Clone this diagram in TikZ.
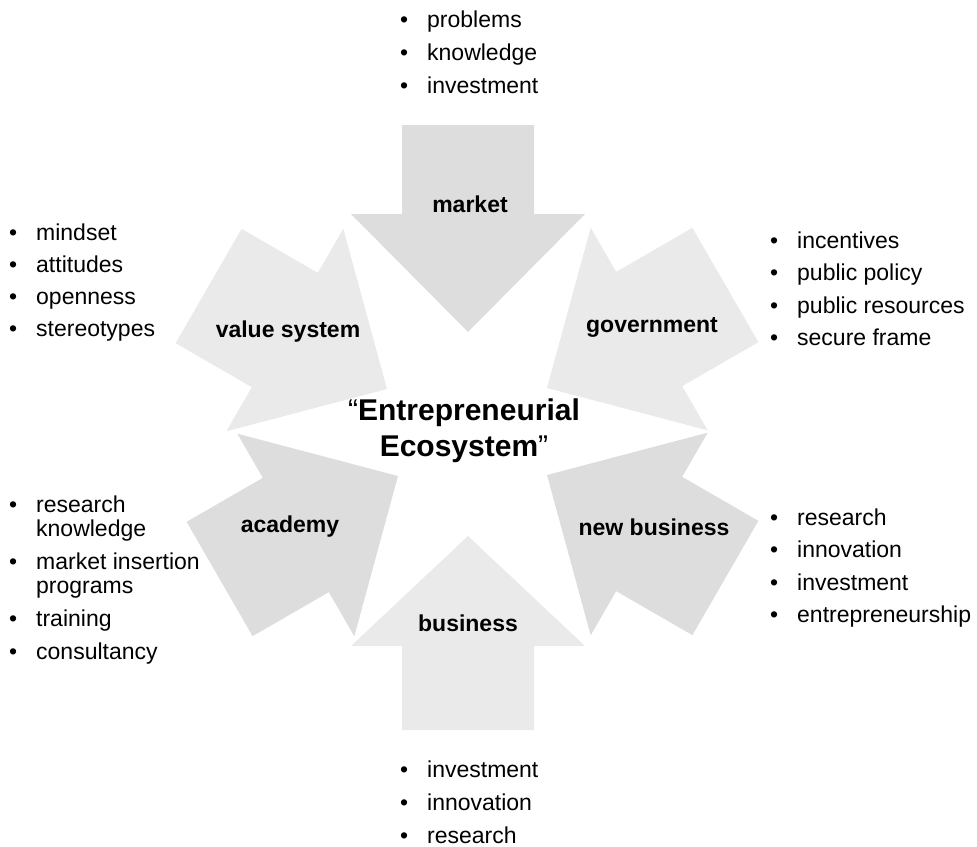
\documentclass[tikz,border=0pt]{standalone}
\usepackage{fontspec}
\setmainfont{Liberation Sans}
\usepackage{tikz}
\definecolor{arrowdark}{HTML}{DDDDDD}
\definecolor{arrowlight}{HTML}{EAEAEA}
\newcommand{\bul}{\makebox[27pt][l]{\textbullet}}

\begin{document}
\begin{tikzpicture}[x=1pt, y=-1pt,
	lbl/.style={font=\fontsize{23}{24}\selectfont\bfseries, inner sep=0, anchor=base},
	lst/.style={font=\fontsize{23}{24}\selectfont, inner sep=0, anchor=base west},
	centre/.style={font=\fontsize{30}{36}\selectfont, inner sep=0, anchor=base}]
	 \useasboundingbox (0,0) rectangle (977,846);
	 % arrows: tip x / tip y / angle / colour / head length / shaft length
	 \foreach \tx/\ty/\ang/\fillcol/\hlen/\slen in {468/332/-90/arrowdark/118/89,
	 	387/389/-30/arrowlight/118/88, 547/388/-150/arrowlight/118/88,
	 	398/476/30/arrowdark/118/88, 547/475/150/arrowdark/118/88,
	 	468/536/90/arrowlight/110/84}
	 	\fill[\fillcol, shift={(\tx,\ty)}, rotate=\ang] (0,0) -- (-\hlen,117) -- (-\hlen,66)
	 		-- (-\hlen-\slen,66) -- (-\hlen-\slen,-66) -- (-\hlen,-66) -- (-\hlen,-117) -- cycle;
	 % arrow labels
	 \node[lbl] (market) at (470,212) {market};
	 \node[lbl] (valuesys) at (288,337) {value system};
	 \node[lbl] (govt) at (652,332) {government};
	 \node[lbl] (academy) at (290,532) {academy};
	 \node[lbl] (newbiz) at (654,535) {new business};
	 \node[lbl] (business) at (468,631) {business};
	 % centre
	 \node[centre] (eco) at (464,420) {\begin{tabular}[t]{@{}c@{}}“\textbf{Entrepreneurial}\\\textbf{Ecosystem}”\end{tabular}};
	 % lists
	 \node[lst] (marketlist) at (400,27) {\begin{tabular}[t]{@{}l@{}l@{}}
	 	\bul & problems\\[9pt] \bul & knowledge\\[9pt] \bul & investment\end{tabular}};
	 \node[lst] (valuelist) at (9,240) {\begin{tabular}[t]{@{}l@{}l@{}}
	 	\bul & mindset\\[8pt] \bul & attitudes\\[8pt] \bul & openness\\[8pt] \bul & stereotypes\end{tabular}};
	 \node[lst] (govtlist) at (770,248) {\begin{tabular}[t]{@{}l@{}l@{}}
	 	\bul & incentives\\[8.5pt] \bul & public policy\\[8.5pt] \bul & public resources\\[8.5pt] \bul & secure frame\end{tabular}};
	 \node[lst] (academylist) at (9,512) {\begin{tabular}[t]{@{}l@{}l@{}}
	 	\bul & research\\ & knowledge\\[9pt] \bul & market insertion\\ & programs\\[9pt]
	 	\bul & training\\[9pt] \bul & consultancy\end{tabular}};
	 \node[lst] (newbizlist) at (770,525) {\begin{tabular}[t]{@{}l@{}l@{}}
	 	\bul & research\\[8.5pt] \bul & innovation\\[8.5pt] \bul & investment\\[8.5pt] \bul & entrepreneurship\end{tabular}};
	 \node[lst] (businesslist) at (400,777) {\begin{tabular}[t]{@{}l@{}l@{}}
	 	\bul & investment\\[9pt] \bul & innovation\\[9pt] \bul & research\end{tabular}};
\end{tikzpicture}
\end{document}
